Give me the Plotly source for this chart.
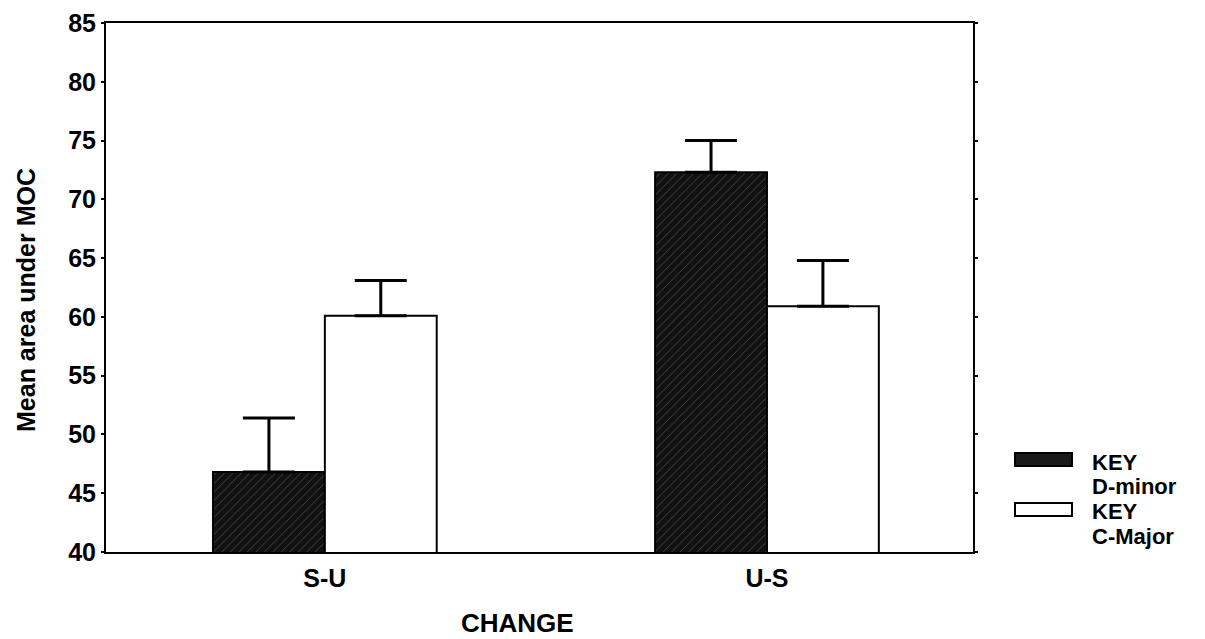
import plotly.graph_objects as go

categories = ["S-U", "U-S"]
legend_lines = [["KEY", "D-minor"], ["KEY", "C-Major"]]
d_minor = [46.8, 72.3]
d_minor_err = [4.6, 2.7]
c_major = [60.1, 60.9]
c_major_err = [3.0, 3.9]
y_ticks = [40, 45, 50, 55, 60, 65, 70, 75, 80, 85]
x_title = "CHANGE"
y_title = "Mean area under MOC"

FONT = "Liberation Sans, Arial, sans-serif"
FS = 25
WT = "bold"

fig = go.Figure()
fig.add_trace(go.Bar(
    x=categories, y=d_minor, name="KEY D-minor",
    marker=dict(color="#111111", line=dict(color="black", width=2),
                pattern=dict(shape="/", fgcolor="white", bgcolor="#111111",
                             size=6, solidity=0.07)),
    error_y=dict(type="data", array=d_minor_err, arrayminus=[0, 0],
                 symmetric=False, color="black", thickness=3, width=26),
    showlegend=False,
))
fig.add_trace(go.Bar(
    x=categories, y=c_major, name="KEY C-Major",
    marker=dict(color="white", line=dict(color="black", width=2)),
    error_y=dict(type="data", array=c_major_err, arrayminus=[0, 0],
                 symmetric=False, color="black", thickness=3, width=26),
    showlegend=False,
))

# pixel -> paper helpers
W, H = 1205, 639
ml, mr, mt, mb = 106, 232, 23, 87
pw, ph = W - ml - mr, H - mt - mb
def px(x):
    return (x - ml) / pw
def py(y):
    return (H - mb - y) / ph

# custom legend
legend_items = [
    (legend_lines[0], "#1a1a1a", 453, 466),
    (legend_lines[1], "white", 503, 516),
]
for lines, fill, y0, y1 in legend_items:
    fig.add_shape(type="rect", xref="paper", yref="paper",
                  x0=px(1015), x1=px(1072), y0=py(y1), y1=py(y0),
                  fillcolor=fill, line=dict(color="black", width=2))
    for i, line in enumerate(lines):
        fig.add_annotation(xref="paper", yref="paper", x=px(1091),
                           y=py(y0 + 9 + 24 * i), xanchor="left", yanchor="middle",
                           text=line, showarrow=False, borderpad=0,
                           font=dict(family=FONT, size=22, color="black", weight=WT))

# axis titles as positioned annotations
fig.add_annotation(xref="paper", yref="paper", x=px(517), y=py(623),
                   xanchor="center", yanchor="middle", text=x_title,
                   showarrow=False,
                   font=dict(family=FONT, size=26, color="black", weight=WT))
fig.add_annotation(xref="paper", yref="paper", x=px(26), y=py(300),
                   xanchor="center", yanchor="middle", text=y_title, textangle=-90,
                   showarrow=False,
                   font=dict(family=FONT, size=FS, color="black", weight=WT))

fig.update_layout(
    width=W, height=H,
    margin=dict(l=ml, r=mr, t=mt, b=mb),
    paper_bgcolor="white", plot_bgcolor="white",
    barmode="group", bargap=0.494, bargroupgap=0,
    font=dict(family=FONT, size=FS, color="black", weight=WT),
)
fig.update_xaxes(
    range=[-0.495, 1.466], showline=True, linecolor="black", linewidth=2,
    mirror=True, ticks="", showgrid=False, ticklabelstandoff=3,
    automargin=False, tickfont=dict(size=FS, weight=WT),
)
fig.update_yaxes(
    range=[40, 85], tickvals=y_ticks, showline=True, linecolor="black",
    linewidth=2, mirror="ticks", ticks="outside", ticklen=3, tickwidth=1.5,
    tickcolor="black", showgrid=False, zeroline=False, automargin=False,
    tickfont=dict(size=FS, weight=WT),
)

fig.write_html("out.html", config={"displayModeBar": False},
               post_script="document.body.style.margin='0';document.body.style.overflow='hidden';")
